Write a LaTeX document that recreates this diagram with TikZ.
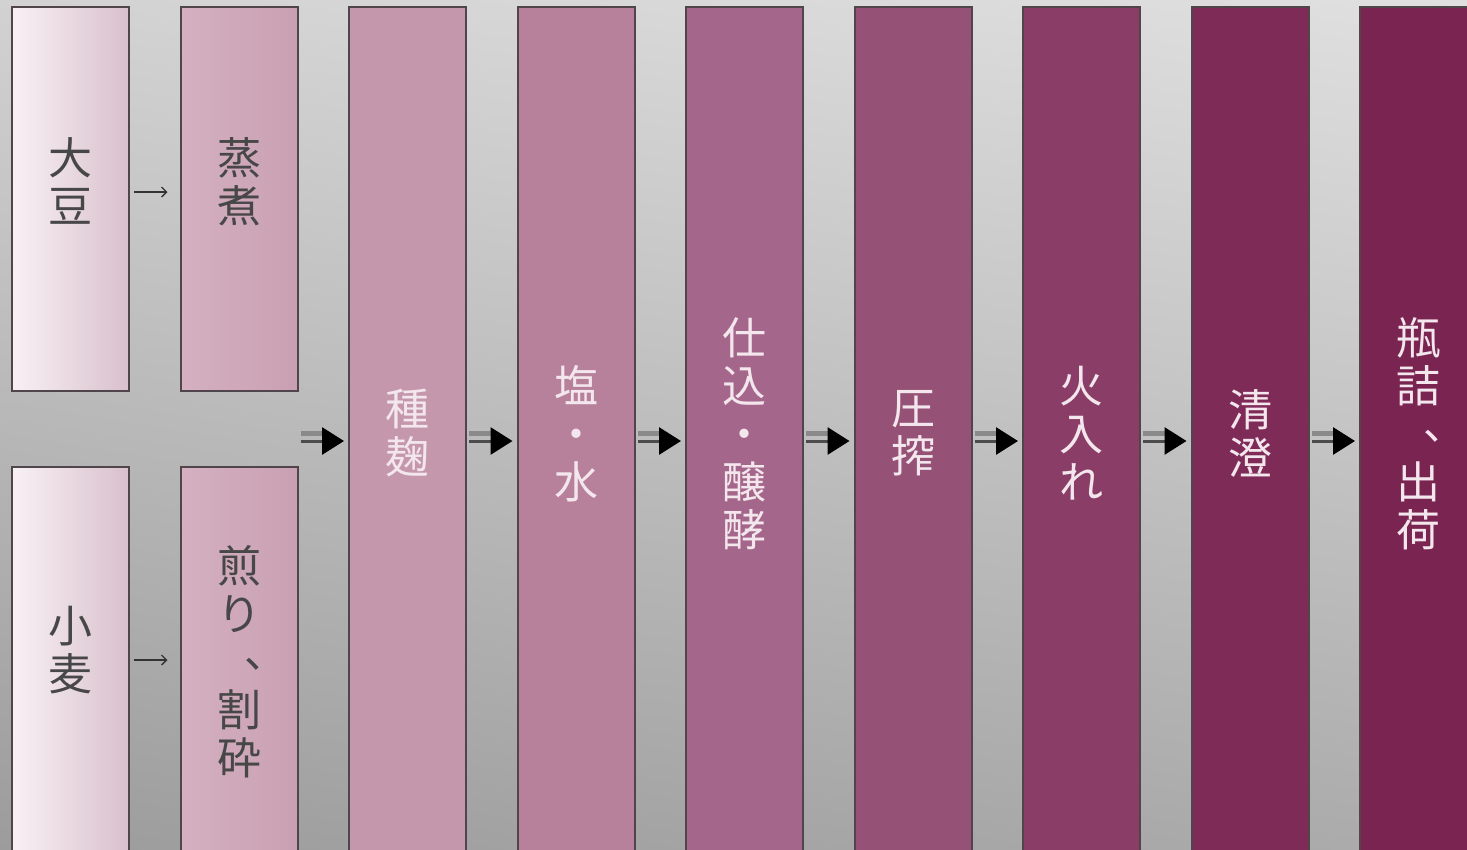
\documentclass[tikz,border=0pt]{standalone}
\usepackage{fontspec}
\newfontfamily\jpfont{Noto Sans CJK JP}
\usetikzlibrary{positioning,arrows.meta,shadings}
\definecolor{bgUL}{HTML}{D2D2D2}
\definecolor{bgUR}{HTML}{E0E0E0}
\definecolor{bgLL}{HTML}{9C9C9C}
\definecolor{bgLR}{HTML}{ACACAC}
\definecolor{edge}{HTML}{4F454A}
\definecolor{rawL}{HTML}{F8F1F4}
\definecolor{rawR}{HTML}{D9C0CC}
\definecolor{prepL}{HTML}{D4B0C0}
\definecolor{prepR}{HTML}{C9A0B2}
\definecolor{stepA}{HTML}{C597AD}
\definecolor{stepB}{HTML}{B7809B}
\definecolor{stepC}{HTML}{A4668A}
\definecolor{stepD}{HTML}{965177}
\definecolor{stepE}{HTML}{8A3E67}
\definecolor{stepF}{HTML}{7F2B58}
\definecolor{stepG}{HTML}{7A2452}
\definecolor{inkdark}{HTML}{474747}
\definecolor{inklight}{HTML}{F3E6EC}
\definecolor{flowgray}{HTML}{8A8A8A}
\definecolor{flowdark}{HTML}{4C4C4C}
\newcommand\jptext{\jpfont\fontsize{44}{48}\selectfont}
\newcommand\vcomma{\smash{\raisebox{-16pt}{︑}}}
\tikzset{
  box/.style={rectangle, draw=edge, line width=2pt, minimum width=117pt, inner sep=0pt, outer sep=0pt},
  shortbox/.style={box, minimum height=384pt},
  longbox/.style={box, minimum height=413pt},
  tallbox/.style={box, minimum height=853pt, text=inklight, align=center, font=\jptext},
  darkink/.style={text=inkdark, align=center, font=\jptext, inner sep=0pt},
  feed/.style={draw=black!80, line width=1.3pt, shorten <=5pt, shorten >=13pt, -{Straight Barb[length=5pt,width=10pt]}},
  flowtop/.style={draw=flowgray, line width=5pt, shorten <=3pt, shorten >=26pt},
  flowbase/.style={draw=flowdark, line width=3pt, shorten <=3pt, shorten >=5pt, -{Triangle[length=22pt,width=27pt,color=black]}, transform canvas={yshift=-7.5pt}}
}
\begin{document}
\begin{tikzpicture}[x=1pt,y=-1pt,node distance=51.5pt]
  \clip (0,0) rectangle (1467,849);
  \shade[upper left=bgUL, upper right=bgUR, lower left=bgLL, lower right=bgLR] (0,0) rectangle (1467,849);
  \node(daizu)[shortbox, left color=rawL, right color=rawR] at (70.5,199) {};
  \node(komugi)[longbox, left color=rawL, right color=rawR, below=76pt of daizu] {};
  \node(joshu)[shortbox, left color=prepL, right color=prepR, right=of daizu] {};
  \node(iri)[longbox, left color=prepL, right color=prepR, right=of komugi] {};
  \node(daizu-t)[darkink] at ([yshift=18pt]daizu) {大\\豆};
  \node(komugi-t)[darkink] at ([yshift=23.5pt]komugi) {小\\麦};
  \node(joshu-t)[darkink] at ([yshift=17pt]joshu) {蒸\\煮};
  \node(iri-t)[darkink] at ([yshift=12pt]iri) {煎\\り\\\vcomma\\割\\砕};
  \node(koji)[tallbox, fill=stepA, anchor=north west] at ([xshift=51.5pt]joshu.north east) {種\\麹};
  \node(shio)[tallbox, fill=stepB, right=of koji] {塩\\・\\水};
  \node(shikomi)[tallbox, fill=stepC, right=of shio] {仕\\込\\・\\醸\\酵};
  \node(assaku)[tallbox, fill=stepD, right=of shikomi] {圧\\搾};
  \node(hiire)[tallbox, fill=stepE, right=of assaku] {火\\入\\れ};
  \node(seicho)[tallbox, fill=stepF, right=of hiire] {清\\澄};
  \node(binzume)[tallbox, fill=stepG, right=of seicho] {瓶\\詰\\\vcomma\\出\\荷};
  \draw[feed] ([yshift=7pt]daizu.east) -- ([yshift=7pt]joshu.west);
  \draw[feed] ([yshift=13.5pt]komugi.east) -- ([yshift=13.5pt]iri.west);
  \coordinate (merge) at (joshu.east |- koji);
  \foreach \a/\b in {merge/koji, koji/shio, shio/shikomi, shikomi/assaku, assaku/hiire, hiire/seicho, seicho/binzume} {
    \draw[flowtop] (\a) -- (\b);
    \draw[flowbase] (\a) -- (\b);
  }
\end{tikzpicture}
\end{document}
